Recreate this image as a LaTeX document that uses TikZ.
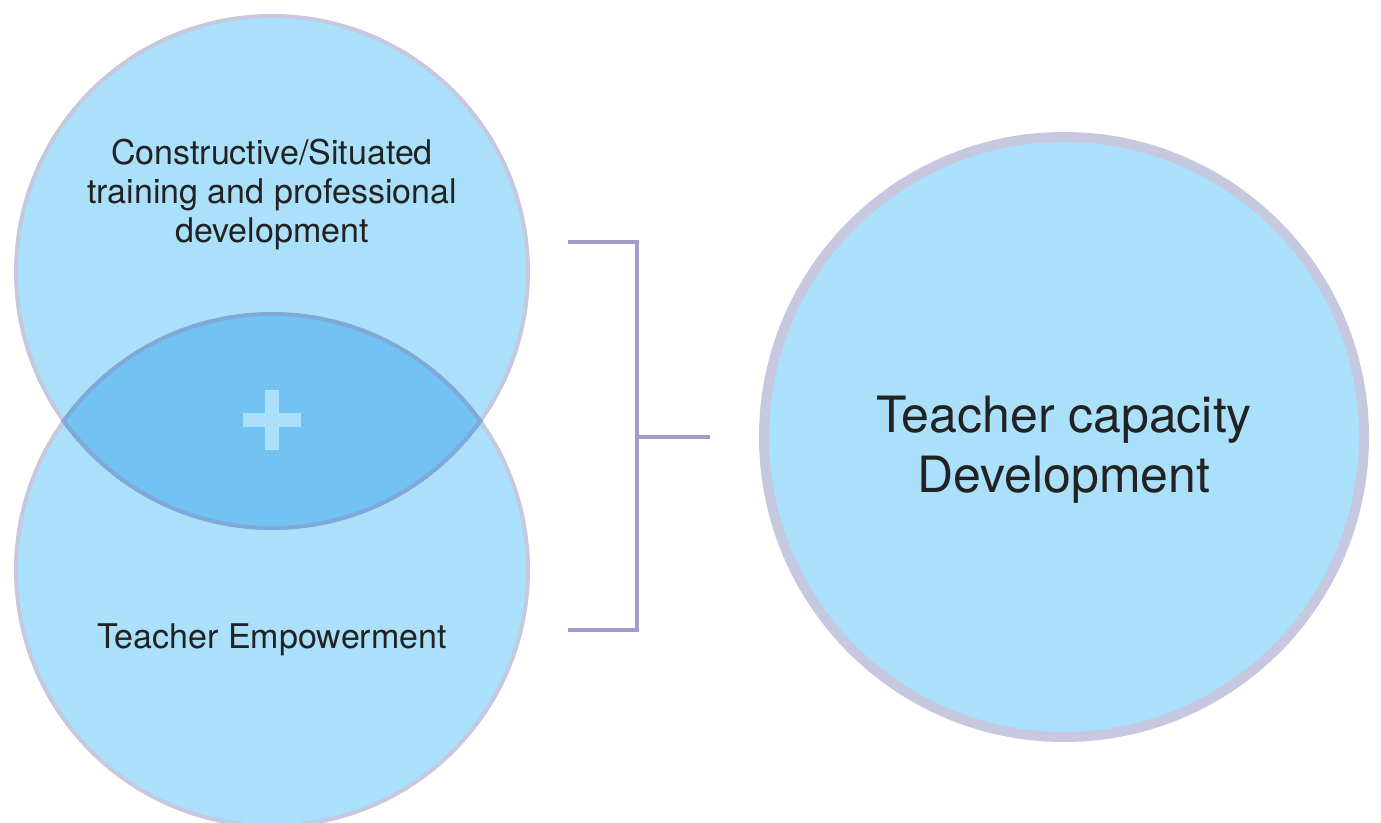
\documentclass[tikz,border=0pt]{standalone}
\usepackage{fontspec}
\setmainfont{TeX Gyre Heros}
\usetikzlibrary{positioning}
\definecolor{circfill}{HTML}{AAE0FA}
\definecolor{circline}{HTML}{C6C8E0}
\definecolor{lensfill}{HTML}{72C3F2}
\definecolor{lensline}{HTML}{80A8D8}
\definecolor{bracecol}{HTML}{9E9CC8}
\definecolor{ink}{HTML}{222222}

\begin{document}
\begin{tikzpicture}
            [x=0.5pt,y=0.5pt,text=ink,
             part/.style={circle,fill=circfill,draw=circline,line width=2pt,minimum size=256pt,inner sep=0pt},
             goal/.style={circle,fill=circfill,draw=circline,line width=5pt,minimum size=300pt,inner sep=0pt},
             brace/.style={draw=bracecol,line width=2pt},
             small/.style={align=center,font=\fontsize{17}{19.5}\selectfont},
             big/.style={align=center,font=\fontsize{25}{30}\selectfont}]
            \useasboundingbox (0,0) rectangle (1381,823);
            \node[part] (training) at (272,551) {};
            \node[part] (empower) at (272,253) {};
            \begin{scope}
                \clip (training.center) circle (129pt);
                \fill[lensfill] (empower.center) circle (128pt);
                \draw[lensline,line width=2pt] (empower.center) circle (128pt);
            \end{scope}
            \begin{scope}
                \clip (empower.center) circle (129pt);
                \draw[lensline,line width=2pt] (training.center) circle (128pt);
            \end{scope}
            \draw[circfill,line width=7pt] (243,403) -- (301,403);
            \draw[circfill,line width=7pt] (272,373) -- (272,433);
            \node[small] (trainingtext) at (272,628) {Constructive/Situated\\training and professional\\development};
            \node[small] (empowertext) at (272,183) {Teacher Empowerment};
            \node[goal] (capacity) at (1064,386) {};
            \node[big] (capacitytext) at (1064,373) {Teacher capacity\\Development};
            \coordinate (bracetop) at (568,581);
            \coordinate (bracebot) at (568,193);
            \coordinate (bracemid) at (637,386);
            \coordinate (braceend) at (710,386);
            \draw[brace] (bracetop) -| (bracemid) |- (bracebot);
            \draw[brace] (bracemid) -- (braceend);
        \end{tikzpicture}
\end{document}
